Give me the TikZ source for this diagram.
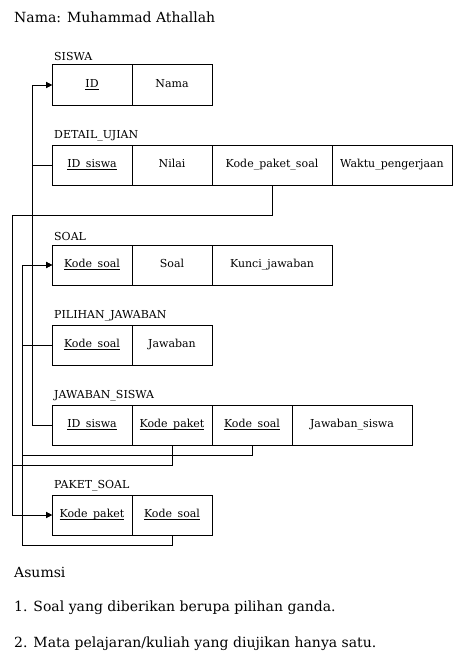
\documentclass[tikz,border=0pt]{standalone}
\usepackage{fontspec}
\setmainfont{DejaVu Serif}
\usetikzlibrary{arrows.meta}
\newcommand{\keyul}[1]{\setbox0\hbox{#1}\rlap{\rule[-2.2pt]{\wd0}{0.7pt}}\box0}
\begin{document}
\begin{tikzpicture}[x=1pt,y=-1pt,
  cell/.style={draw,line width=1pt,minimum height=40pt,inner sep=0pt,outer sep=0pt,
    text height=8pt,text depth=2.6pt,
    anchor=north west,font=\fontsize{11}{13}\selectfont},
  w80/.style={cell,minimum width=80pt},
  w120/.style={cell,minimum width=120pt},
  lbl/.style={anchor=west,inner sep=0pt,font=\fontsize{11}{13}\selectfont},
  big/.style={anchor=west,inner sep=0pt,font=\fontsize{14}{17}\selectfont},
  conn/.style={line width=1pt},
  arr/.style={conn,-{Triangle[length=6pt,width=6pt]}}]
\useasboundingbox (0,0) rectangle (458,661);
\fill[white] (0,0) rectangle (458,661);

\node[big] (title) at (14,17) {Nama: Muhammad Athallah};

% SISWA
\node[lbl] (lsiswa) at (54,56) {SISWA};
\node[w80] (siswa-id) at (52,65) {\keyul{ID}};
\node[w80] (siswa-nama) at (132,65) {Nama};

% DETAIL_UJIAN
\node[lbl] (ldu) at (54,136) {DETAIL\_UJIAN};
\node[w80] (du-id) at (52,145) {\keyul{ID\_siswa}};
\node[w80] (du-nilai) at (132,145) {Nilai};
\node[w120] (du-kps) at (212,145) {Kode\_paket\_soal};
\node[w120] (du-waktu) at (332,145) {Waktu\_pengerjaan};

% SOAL
\node[lbl] (lsoal) at (54,236) {SOAL};
\node[w80] (soal-ks) at (52,245) {\keyul{Kode\_soal}};
\node[w80] (soal-soal) at (132,245) {Soal};
\node[w120] (soal-kunci) at (212,245) {Kunci\_jawaban};

% PILIHAN_JAWABAN
\node[lbl] (lpj) at (54,316) {PILIHAN\_JAWABAN};
\node[w80] (pj-ks) at (52,325) {\keyul{Kode\_soal}};
\node[w80] (pj-jaw) at (132,325) {Jawaban};

% JAWABAN_SISWA
\node[lbl] (ljs) at (54,396) {JAWABAN\_SISWA};
\node[w80] (js-id) at (52,405) {\keyul{ID\_siswa}};
\node[w80] (js-kp) at (132,405) {\keyul{Kode\_paket}};
\node[w80] (js-ks) at (212,405) {\keyul{Kode\_soal}};
\node[w120] (js-jaw) at (292,405) {Jawaban\_siswa};

% PAKET_SOAL
\node[lbl] (lps) at (54,486) {PAKET\_SOAL};
\node[w80] (ps-kp) at (52,495) {\keyul{Kode\_paket}};
\node[w80] (ps-ks) at (132,495) {\keyul{Kode\_soal}};

% connectors
\draw[arr] (du-id.west) -- ++(-20,0) |- (siswa-id.west);
\draw[arr] (js-id.west) -- ++(-20,0) |- (siswa-id.west);
\draw[arr] (du-kps.south) -- ++(0,30) -| ([xshift=-40pt]ps-kp.west) -- (ps-kp.west);
\draw[arr] (js-kp.south) -- ++(0,20) -| ([xshift=-40pt]ps-kp.west) -- (ps-kp.west);
\draw[arr] (pj-ks.west) -- ++(-30,0) |- (soal-ks.west);
\draw[arr] (js-ks.south) -- ++(0,10) -| ([xshift=-30pt]soal-ks.west) -- (soal-ks.west);
\draw[arr] (ps-ks.south) -- ++(0,10) -| ([xshift=-30pt]soal-ks.west) -- (soal-ks.west);

% Asumsi
\node[big] (asumsi) at (14,572) {Asumsi};
\node[big] (a1) at (14,608) {1. Soal yang diberikan berupa pilihan ganda.};
\node[big] (a2) at (14,644) {2. Mata pelajaran/kuliah yang diujikan hanya satu.};
\end{tikzpicture}
\end{document}
